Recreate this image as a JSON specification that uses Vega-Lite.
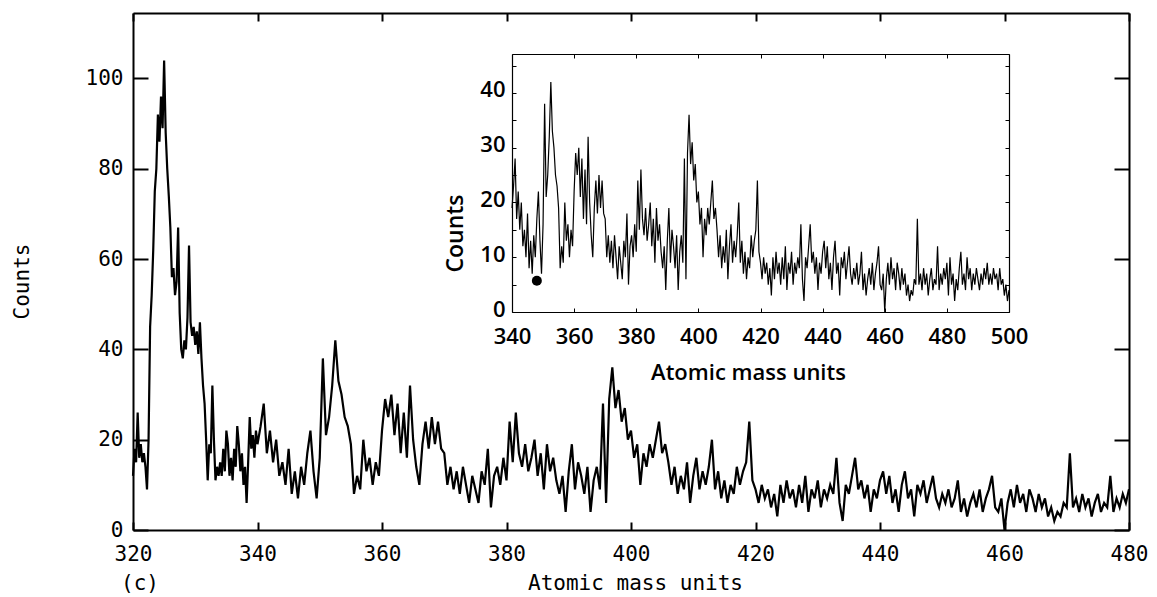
{
"$schema": "https://vega.github.io/schema/vega-lite/v6.json",
"width": 996, "height": 517,
"autosize": {"type": "none"},
"padding": {"left": 133, "top": 13, "right": 28, "bottom": 67},
"background": "white",
"title": {"text": "(c)", "orient": "bottom", "anchor": "start", "frame": "group", "offset": -20, "dx": -12, "font": "DejaVu Sans Mono", "fontSize": 21, "fontWeight": "normal", "color": "black"},
"config": {"view": {"stroke": null}, "axis": {"grid": false, "domainColor": "black", "tickColor": "black", "labelColor": "black", "titleColor": "black"}},
"data": {"values": [
{"m":320,"c":12},{"m":320.25,"c":18},{"m":320.5,"c":15},{"m":320.75,"c":26},{"m":321,"c":16},{"m":321.25,"c":19},{"m":321.5,"c":15},{"m":321.75,"c":17},{"m":322,"c":14},{"m":322.25,"c":9},{"m":322.5,"c":20},{"m":322.75,"c":45},{"m":323,"c":52},{"m":323.25,"c":62},{"m":323.5,"c":75},{"m":323.75,"c":80},{"m":324,"c":92},{"m":324.25,"c":86},{"m":324.5,"c":96},{"m":324.75,"c":89},{"m":325,"c":104},{"m":325.25,"c":88},{"m":325.5,"c":80},{"m":325.75,"c":74},{"m":326,"c":67},{"m":326.25,"c":56},{"m":326.5,"c":58},{"m":326.75,"c":52},{"m":327,"c":55},{"m":327.25,"c":67},{"m":327.5,"c":48},{"m":327.75,"c":40},{"m":328,"c":38},{"m":328.25,"c":42},{"m":328.5,"c":40},{"m":328.75,"c":47},{"m":329,"c":63},{"m":329.25,"c":46},{"m":329.5,"c":43},{"m":329.75,"c":45},{"m":330,"c":41},{"m":330.25,"c":44},{"m":330.5,"c":39},{"m":330.75,"c":46},{"m":331,"c":38},{"m":331.25,"c":32},{"m":331.5,"c":28},{"m":331.75,"c":20},{"m":332,"c":11},{"m":332.25,"c":19},{"m":332.5,"c":17},{"m":332.75,"c":32},{"m":333,"c":20},{"m":333.25,"c":11},{"m":333.5,"c":14},{"m":333.75,"c":12},{"m":334,"c":15},{"m":334.25,"c":12},{"m":334.5,"c":18},{"m":334.75,"c":13},{"m":335,"c":22},{"m":335.25,"c":19},{"m":335.5,"c":12},{"m":335.75,"c":16},{"m":336,"c":11},{"m":336.25,"c":18},{"m":336.5,"c":14},{"m":336.75,"c":23},{"m":337,"c":19},{"m":337.25,"c":13},{"m":337.5,"c":17},{"m":337.75,"c":10},{"m":338,"c":14},{"m":338.25,"c":6},{"m":338.5,"c":15},{"m":338.75,"c":25},{"m":339,"c":18},{"m":339.25,"c":21},{"m":339.5,"c":16},{"m":339.75,"c":22},
{"m":340,"c":19},{"m":340.5,"c":23},{"m":341,"c":28},{"m":341.5,"c":17},{"m":342,"c":22},{"m":342.5,"c":15},{"m":343,"c":20},{"m":343.5,"c":12},{"m":344,"c":15},{"m":344.5,"c":10},{"m":345,"c":18},{"m":345.5,"c":8},{"m":346,"c":13},{"m":346.5,"c":7},{"m":347,"c":14},{"m":347.5,"c":10},{"m":348,"c":17},{"m":348.5,"c":22},{"m":349,"c":13},{"m":349.5,"c":7},
{"m":350,"c":16},{"m":350.5,"c":38},{"m":351,"c":21},{"m":351.5,"c":25},{"m":352,"c":32},{"m":352.5,"c":42},{"m":353,"c":33},{"m":353.5,"c":30},{"m":354,"c":25},{"m":354.5,"c":23},{"m":355,"c":19},{"m":355.5,"c":8},{"m":356,"c":12},{"m":356.5,"c":9},{"m":357,"c":20},{"m":357.5,"c":13},{"m":358,"c":16},{"m":358.5,"c":10},{"m":359,"c":15},{"m":359.5,"c":12},
{"m":360,"c":22},{"m":360.5,"c":29},{"m":361,"c":25},{"m":361.5,"c":30},{"m":362,"c":21},{"m":362.5,"c":28},{"m":363,"c":17},{"m":363.5,"c":26},{"m":364,"c":16},{"m":364.5,"c":32},{"m":365,"c":20},{"m":365.5,"c":14},{"m":366,"c":10},{"m":366.5,"c":19},{"m":367,"c":24},{"m":367.5,"c":18},{"m":368,"c":25},{"m":368.5,"c":19},{"m":369,"c":24},{"m":369.5,"c":18},
{"m":370,"c":17},{"m":370.5,"c":10},{"m":371,"c":14},{"m":371.5,"c":9},{"m":372,"c":13},{"m":372.5,"c":8},{"m":373,"c":14},{"m":373.5,"c":10},{"m":374,"c":6},{"m":374.5,"c":12},{"m":375,"c":9},{"m":375.5,"c":6},{"m":376,"c":13},{"m":376.5,"c":10},{"m":377,"c":18},{"m":377.5,"c":5},{"m":378,"c":12},{"m":378.5,"c":14},{"m":379,"c":10},{"m":379.5,"c":16},
{"m":380,"c":11},{"m":380.5,"c":24},{"m":381,"c":15},{"m":381.5,"c":26},{"m":382,"c":17},{"m":382.5,"c":14},{"m":383,"c":19},{"m":383.5,"c":13},{"m":384,"c":16},{"m":384.5,"c":20},{"m":385,"c":12},{"m":385.5,"c":17},{"m":386,"c":9},{"m":386.5,"c":19},{"m":387,"c":13},{"m":387.5,"c":16},{"m":388,"c":11},{"m":388.5,"c":8},{"m":389,"c":12},{"m":389.5,"c":4},
{"m":390,"c":13},{"m":390.5,"c":19},{"m":391,"c":9},{"m":391.5,"c":15},{"m":392,"c":12},{"m":392.5,"c":8},{"m":393,"c":14},{"m":393.5,"c":4},{"m":394,"c":11},{"m":394.5,"c":14},{"m":395,"c":9},{"m":395.5,"c":28},{"m":396,"c":6},{"m":396.5,"c":29},{"m":397,"c":36},{"m":397.5,"c":27},{"m":398,"c":31},{"m":398.5,"c":24},{"m":399,"c":27},{"m":399.5,"c":20},
{"m":400,"c":22},{"m":400.5,"c":16},{"m":401,"c":19},{"m":401.5,"c":10},{"m":402,"c":17},{"m":402.5,"c":14},{"m":403,"c":19},{"m":403.5,"c":16},{"m":404,"c":20},{"m":404.5,"c":24},{"m":405,"c":17},{"m":405.5,"c":19},{"m":406,"c":15},{"m":406.5,"c":10},{"m":407,"c":14},{"m":407.5,"c":8},{"m":408,"c":12},{"m":408.5,"c":9},{"m":409,"c":15},{"m":409.5,"c":6},
{"m":410,"c":12},{"m":410.5,"c":16},{"m":411,"c":9},{"m":411.5,"c":13},{"m":412,"c":10},{"m":412.5,"c":14},{"m":413,"c":20},{"m":413.5,"c":9},{"m":414,"c":13},{"m":414.5,"c":7},{"m":415,"c":11},{"m":415.5,"c":6},{"m":416,"c":10},{"m":416.5,"c":8},{"m":417,"c":14},{"m":417.5,"c":10},{"m":418,"c":13},{"m":418.5,"c":15},{"m":419,"c":24},{"m":419.5,"c":11},
{"m":420,"c":9},{"m":420.5,"c":6},{"m":421,"c":10},{"m":421.5,"c":7},{"m":422,"c":9},{"m":422.5,"c":5},{"m":423,"c":8},{"m":423.5,"c":3},{"m":424,"c":10},{"m":424.5,"c":6},{"m":425,"c":11},{"m":425.5,"c":7},{"m":426,"c":9},{"m":426.5,"c":5},{"m":427,"c":10},{"m":427.5,"c":6},{"m":428,"c":12},{"m":428.5,"c":4},{"m":429,"c":9},{"m":429.5,"c":7},
{"m":430,"c":11},{"m":430.5,"c":5},{"m":431,"c":9},{"m":431.5,"c":7},{"m":432,"c":10},{"m":432.5,"c":8},{"m":433,"c":16},{"m":433.5,"c":6},{"m":434,"c":2},{"m":434.5,"c":10},{"m":435,"c":8},{"m":435.5,"c":12},{"m":436,"c":16},{"m":436.5,"c":9},{"m":437,"c":11},{"m":437.5,"c":7},{"m":438,"c":10},{"m":438.5,"c":4},{"m":439,"c":9},{"m":439.5,"c":7},
{"m":440,"c":11},{"m":440.5,"c":13},{"m":441,"c":8},{"m":441.5,"c":12},{"m":442,"c":6},{"m":442.5,"c":9},{"m":443,"c":4},{"m":443.5,"c":10},{"m":444,"c":13},{"m":444.5,"c":7},{"m":445,"c":9},{"m":445.5,"c":3},{"m":446,"c":10},{"m":446.5,"c":8},{"m":447,"c":11},{"m":447.5,"c":6},{"m":448,"c":9},{"m":448.5,"c":12},{"m":449,"c":7},{"m":449.5,"c":5},
{"m":450,"c":8},{"m":450.5,"c":6},{"m":451,"c":9},{"m":451.5,"c":5},{"m":452,"c":7},{"m":452.5,"c":11},{"m":453,"c":4},{"m":453.5,"c":7},{"m":454,"c":3},{"m":454.5,"c":6},{"m":455,"c":8},{"m":455.5,"c":5},{"m":456,"c":9},{"m":456.5,"c":4},{"m":457,"c":7},{"m":457.5,"c":9},{"m":458,"c":12},{"m":458.5,"c":5},{"m":459,"c":4},{"m":459.5,"c":7},
{"m":460,"c":0},{"m":460.5,"c":6},{"m":461,"c":9},{"m":461.5,"c":5},{"m":462,"c":10},{"m":462.5,"c":6},{"m":463,"c":8},{"m":463.5,"c":4},{"m":464,"c":9},{"m":464.5,"c":7},{"m":465,"c":4},{"m":465.5,"c":8},{"m":466,"c":5},{"m":466.5,"c":7},{"m":467,"c":3},{"m":467.5,"c":5},{"m":468,"c":2},{"m":468.5,"c":4},{"m":469,"c":3},{"m":469.5,"c":6},
{"m":470,"c":5},{"m":470.5,"c":17},{"m":471,"c":5},{"m":471.5,"c":7},{"m":472,"c":4},{"m":472.5,"c":8},{"m":473,"c":5},{"m":473.5,"c":7},{"m":474,"c":3},{"m":474.5,"c":6},{"m":475,"c":8},{"m":475.5,"c":4},{"m":476,"c":6},{"m":476.5,"c":5},{"m":477,"c":12},{"m":477.5,"c":4},{"m":478,"c":7},{"m":478.5,"c":5},{"m":479,"c":8},{"m":479.5,"c":6},
{"m":480,"c":9},{"m":480.5,"c":3},{"m":481,"c":10},{"m":481.5,"c":5},{"m":482,"c":7},{"m":482.5,"c":2},{"m":483,"c":6},{"m":483.5,"c":4},{"m":484,"c":8},{"m":484.5,"c":11},{"m":485,"c":5},{"m":485.5,"c":7},{"m":486,"c":4},{"m":486.5,"c":10},{"m":487,"c":6},{"m":487.5,"c":8},{"m":488,"c":4},{"m":488.5,"c":7},{"m":489,"c":5},{"m":489.5,"c":8},
{"m":490,"c":6},{"m":490.5,"c":4},{"m":491,"c":7},{"m":491.5,"c":5},{"m":492,"c":8},{"m":492.5,"c":6},{"m":493,"c":9},{"m":493.5,"c":5},{"m":494,"c":7},{"m":494.5,"c":5},{"m":495,"c":8},{"m":495.5,"c":6},{"m":496,"c":7},{"m":496.5,"c":4},{"m":497,"c":8},{"m":497.5,"c":5},{"m":498,"c":6},{"m":498.5,"c":3},{"m":499,"c":5},{"m":499.5,"c":2},{"m":500,"c":4}
]},
"layer": [
 {
  "transform": [{"filter": "datum.m <= 480"}],
  "layer": [
   {"mark": {"type": "line", "color": "black", "strokeWidth": 2.2},
    "encoding": {
     "x": {"field": "m", "type": "quantitative", "scale": {"domain": [320, 480], "nice": false, "zero": false},
       "axis": {"orient": "bottom", "values": [320,340,360,380,400,420,440,460,480], "tickSize": -8, "tickWidth": 2, "domainWidth": 2, "labelPadding": 21, "labelFont": "DejaVu Sans Mono", "labelFontSize": 21, "labelFlush": false,
         "title": "Atomic mass units", "titleFont": "DejaVu Sans Mono", "titleFontSize": 21, "titleFontWeight": "normal", "titleX": 502, "titleY": 53, "titleBaseline": "middle", "titleAlign": "center"}},
     "y": {"field": "c", "type": "quantitative", "scale": {"domain": [0, 114.5], "nice": false, "zero": false},
       "axis": {"orient": "left", "values": [0,20,40,60,80,100], "tickSize": -15, "tickWidth": 2, "domainWidth": 2, "labelPadding": 25, "labelFont": "DejaVu Sans Mono", "labelFontSize": 21, "labelFlush": false,
         "title": "Counts", "titleFont": "DejaVu Sans Mono", "titleFontSize": 21, "titleFontWeight": "normal", "titleX": -111, "titleY": 268, "titleBaseline": "middle", "titleAlign": "center", "titleAngle": -90}}
    }},
   {"mark": {"type": "point", "opacity": 0},
    "encoding": {
     "x": {"field": "m", "type": "quantitative", "axis": {"orient": "top", "values": [320,340,360,380,400,420,440,460,480], "tickSize": -8, "tickWidth": 2, "domainWidth": 2, "labels": false, "title": null}},
     "y": {"field": "c", "type": "quantitative", "axis": {"orient": "right", "values": [0,20,40,60,80,100], "tickSize": -15, "tickWidth": 2, "domainWidth": 2, "labels": false, "title": null}}
    }}
  ],
  "resolve": {"axis": {"x": "independent", "y": "independent"}}
 },
 {
  "layer": [
   {"transform": [{"filter": "datum.m >= 340"}],
    "mark": {"type": "line", "color": "black", "strokeWidth": 1.2},
    "encoding": {
     "x": {"field": "m", "type": "quantitative", "scale": {"domain": [340, 500], "range": [379, 876], "nice": false, "zero": false},
       "axis": {"orient": "bottom", "offset": -218, "values": [340,360,380,400,420,440,460,480,500], "tickSize": -4, "tickWidth": 1, "domainWidth": 1.2, "labelPadding": 18, "labelFont": "Open Sans", "labelFontSize": 22, "labelFontWeight": 600, "labelFlush": false,
         "title": "Atomic mass units", "titleFont": "Open Sans", "titleFontSize": 22, "titleFontWeight": 600, "titleX": 615, "titleY": 60, "titleBaseline": "middle", "titleAlign": "center"}},
     "y": {"field": "c", "type": "quantitative", "scale": {"domain": [0, 47.1], "range": [299, 41], "nice": false, "zero": false},
       "axis": {"orient": "left", "offset": -379, "values": [0,5,10,15,20,25,30,35,40,45], "labelExpr": "datum.value % 10 == 0 ? datum.label : ''", "tickSize": -4, "tickWidth": 1, "domainWidth": 1.2, "labelPadding": 11, "labelOffset": -3, "labelFont": "Open Sans", "labelFontSize": 22, "labelFontWeight": 600, "labelFlush": false,
         "title": "Counts", "titleFont": "Open Sans", "titleFontSize": 23, "titleFontWeight": 600, "titleX": -57, "titleY": 220, "titleBaseline": "middle", "titleAlign": "center", "titleAngle": -90}}
    }},
   {"transform": [{"filter": "datum.m >= 340"}],
    "mark": {"type": "point", "opacity": 0},
    "encoding": {
     "x": {"field": "m", "type": "quantitative", "axis": {"orient": "top", "offset": -41, "values": [340,360,380,400,420,440,460,480,500], "tickSize": -4, "tickWidth": 1, "domainWidth": 1.2, "labels": false, "title": null}},
     "y": {"field": "c", "type": "quantitative", "axis": {"orient": "right", "offset": -120, "values": [0,5,10,15,20,25,30,35,40,45], "tickSize": -4, "tickWidth": 1, "domainWidth": 1.2, "labels": false, "title": null}}
    }},
   {"data": {"values": [{"m": 348, "c": 5.7}]},
    "mark": {"type": "point", "filled": true, "color": "black", "opacity": 1, "size": 100},
    "encoding": {
     "x": {"field": "m", "type": "quantitative", "axis": null},
     "y": {"field": "c", "type": "quantitative", "axis": null}
    }}
  ],
  "resolve": {"axis": {"x": "independent", "y": "independent"}}
 }
],
"resolve": {"scale": {"x": "independent", "y": "independent"}, "axis": {"x": "independent", "y": "independent"}}
}
